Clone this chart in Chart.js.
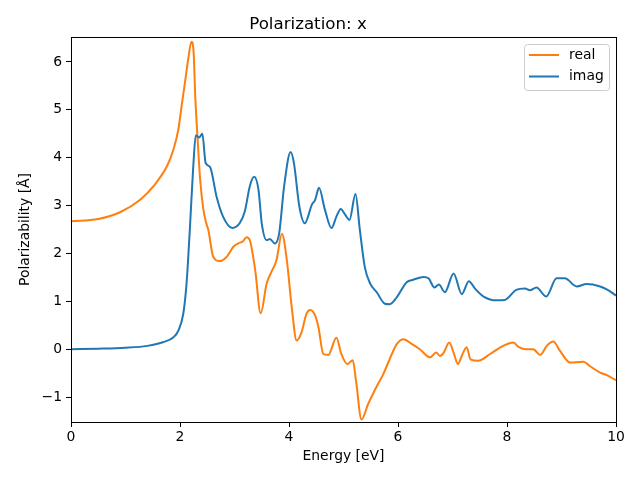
<!DOCTYPE html>
<html>
<head>
<meta charset="utf-8">
<script src="https://cdn.jsdelivr.net/npm/chart.js@4"></script>
<style>
  html, body { margin: 0; padding: 0; background: #fff; }
  #wrap { width: 640px; height: 480px; }
</style>
</head>
<body>
<div id="wrap"><canvas id="myChart" width="640" height="480"></canvas></div>
<script>
// values
const real_energy = [0, 0.5, 0.9, 1.27, 1.51, 1.76, 1.88, 1.97, 2.03, 2.09, 2.15, 2.21, 2.25, 2.28, 2.32, 2.37,
    2.43, 2.48, 2.52, 2.61, 2.73, 2.85, 2.98, 3.07, 3.15, 3.22, 3.28, 3.38, 3.48, 3.59, 3.68, 3.77, 3.87, 3.96,
    4.05, 4.14, 4.23, 4.32, 4.39, 4.48, 4.54, 4.63, 4.72, 4.87, 4.96, 5.07, 5.17, 5.23, 5.33, 5.45,
    5.58, 5.73, 5.88, 5.98, 6.10, 6.25, 6.40, 6.59, 6.70, 6.77, 6.84, 6.94, 7.02, 7.10, 7.17, 7.26,
    7.33, 7.47, 7.69, 7.93, 8.12, 8.21, 8.36, 8.48, 8.61, 8.73, 8.85, 8.97, 9.16, 9.40, 9.52, 9.71,
    9.83, 10];
const real_values = [2.67, 2.72, 2.86, 3.12, 3.40, 3.82, 4.17, 4.59, 5.08, 5.56, 6.05, 6.42, 6.2, 5.28, 4.45, 3.54,
    2.91, 2.64, 2.49, 1.93, 1.84, 1.92, 2.14, 2.21, 2.25, 2.34, 2.28, 1.65, 0.75, 1.37, 1.62, 1.86, 2.41, 1.86,
    0.88, 0.18, 0.35, 0.74, 0.82, 0.70, 0.46, -0.10, -0.12, 0.24, -0.10, -0.31, -0.23, -0.66, -1.47, -1.15,
    -0.84, -0.52, -0.12, 0.11, 0.21, 0.11, 0.00, -0.17, -0.07, -0.14, -0.07, 0.14, -0.07, -0.31, -0.14, 0.04,
    -0.21, -0.24, -0.10, 0.07, 0.14, 0.05, 0.00, 0.00, -0.12, 0.07, 0.16, -0.03, -0.28, -0.26, -0.35, -0.49,
    -0.54, -0.65];

const imag_energy = [0, 0.5, 1.0, 1.4, 1.7, 1.88, 1.97, 2.06, 2.12, 2.18, 2.24, 2.29, 2.35, 2.41, 2.47,
    2.55, 2.67, 2.79, 2.96, 3.10, 3.19, 3.28, 3.36, 3.44, 3.50, 3.59, 3.65, 3.74, 3.82, 3.91, 4.03,
    4.09, 4.19, 4.29, 4.42, 4.48, 4.55, 4.66, 4.78, 4.87, 4.95, 5.03, 5.11, 5.22, 5.30, 5.39, 5.49,
    5.61, 5.76, 5.85, 5.98, 6.16, 6.28, 6.47, 6.56, 6.67, 6.75, 6.86, 7.02, 7.17, 7.30, 7.41, 7.57,
    7.81, 7.96, 8.17, 8.33, 8.42, 8.54, 8.72, 8.91, 9.06, 9.28, 9.46, 9.71, 9.83, 10];
const imag_values = [0.00, 0.01, 0.03, 0.07, 0.15, 0.25, 0.39, 0.74, 1.37, 2.49, 3.75, 4.47, 4.42, 4.50, 3.89,
    3.81, 3.19, 2.77, 2.53, 2.64, 2.88, 3.40, 3.60, 3.33, 2.63, 2.28, 2.30, 2.21, 2.42, 3.40, 4.12,
    3.89, 2.98, 2.63, 3.02, 3.12, 3.37, 2.91, 2.53, 2.77, 2.93, 2.81, 2.70, 3.24, 2.49, 1.72, 1.37,
    1.19, 0.95, 0.94, 1.09, 1.40, 1.45, 1.51, 1.48, 1.29, 1.35, 1.19, 1.58, 1.15, 1.42, 1.27, 1.10,
    1.02, 1.03, 1.24, 1.27, 1.23, 1.29, 1.10, 1.48, 1.48, 1.31, 1.36, 1.31, 1.25, 1.12];

const x_ticks = [0, 2, 4, 6, 8, 10];
const y_ticks = [-1, 0, 1, 2, 3, 4, 5, 6];

const FONT = "'DejaVu Sans', sans-serif";

function to_points(xs, ys) {
    return xs.map((x, i) => ({ x: x, y: ys[i] }));
}

// box round the plot and the legend inside it
const frame_plugin = {
    id: 'frame_plugin',
    afterDraw(chart) {
        const ctx = chart.ctx;
        const a = chart.chartArea;
        ctx.save();
        ctx.strokeStyle = '#000';
        ctx.lineWidth = 1;
        ctx.strokeRect(Math.round(a.left) + 0.5, Math.round(a.top) + 0.5,
            Math.round(a.right - a.left), Math.round(a.bottom - a.top));

        // legend
        const bx = a.right - 92, by = a.top + 7, bw = 85, bh = 46;
        ctx.beginPath();
        ctx.roundRect(bx + 0.5, by + 0.5, bw, bh, 3);
        ctx.fillStyle = 'rgba(255,255,255,0.8)';
        ctx.fill();
        ctx.strokeStyle = '#cccccc';
        ctx.stroke();
        const rows = [
            { label: chart.data.datasets[0].label, color: chart.data.datasets[0].borderColor },
            { label: chart.data.datasets[1].label, color: chart.data.datasets[1].borderColor }
        ];
        ctx.font = '13.9px ' + FONT;
        ctx.textBaseline = 'middle';
        ctx.textAlign = 'left';
        rows.forEach((r, i) => {
            const y = by + 11 + i * 21.5;
            ctx.beginPath();
            ctx.moveTo(bx + 5, y);
            ctx.lineTo(bx + 35, y);
            ctx.strokeStyle = r.color;
            ctx.lineWidth = 2;
            ctx.stroke();
            ctx.fillStyle = '#000';
            ctx.fillText(r.label, bx + 45, y);
        });
        ctx.restore();
    }
};

const ctx = document.getElementById('myChart').getContext('2d');
const config = {
    type: 'line',
    data: {
        datasets: [{
            label: 'real',
            data: to_points(real_energy, real_values),
            borderColor: '#ff7f0e',
            borderWidth: 2,
            pointRadius: 0,
            cubicInterpolationMode: 'monotone',
            fill: false,
            order: 1
        }, {
            label: 'imag',
            data: to_points(imag_energy, imag_values),
            borderColor: '#1f77b4',
            borderWidth: 2,
            pointRadius: 0,
            cubicInterpolationMode: 'monotone',
            fill: false,
            order: 0
        }]
    },
    options: {
        responsive: false,
        animation: false,
        layout: { padding: { left: 0, right: 24, top: 0, bottom: 0 } },
        plugins: {
            legend: { display: false },
            tooltip: { enabled: false },
            title: {
                display: true,
                text: 'Polarization: x',
                color: '#000',
                font: { family: FONT, size: 16.67, weight: 'normal', lineHeight: 1.2 },
                padding: { top: 15, bottom: 2 }
            }
        },
        scales: {
            x: {
                type: 'linear',
                min: 0,
                max: 10,
                afterFit: (scale) => { scale.height = 58; },
                afterBuildTicks: (scale) => { scale.ticks = x_ticks.map(v => ({ value: v })); },
                grid: { display: true, drawOnChartArea: false, tickLength: 5, color: '#000' },
                border: { display: false },
                ticks: {
                    color: '#000',
                    padding: 2,
                    maxRotation: 0,
                    font: { family: FONT, size: 13.9 },
                    callback: (v) => String(v)
                },
                title: {
                    display: true,
                    text: 'Energy [eV]',
                    color: '#000',
                    font: { family: FONT, size: 13.9 },
                    padding: { top: 0, bottom: 15 }
                }
            },
            y: {
                type: 'linear',
                min: -1.52,
                max: 6.52,
                afterFit: (scale) => { scale.width = 71; },
                afterBuildTicks: (scale) => { scale.ticks = y_ticks.map(v => ({ value: v })); },
                grid: { display: true, drawOnChartArea: false, tickLength: 5, color: '#000' },
                border: { display: false },
                ticks: {
                    color: '#000',
                    padding: 4,
                    font: { family: FONT, size: 13.9 },
                    callback: (v) => String(v).replace('-', '\u2212')
                },
                title: {
                    display: true,
                    text: 'Polarizability [Å]',
                    color: '#000',
                    font: { family: FONT, size: 13.9 },
                    padding: { top: 17, bottom: 0 }
                }
            }
        }
    },
    plugins: [frame_plugin]
};
const myChart = new Chart(ctx, config);
</script>
</body>
</html>
